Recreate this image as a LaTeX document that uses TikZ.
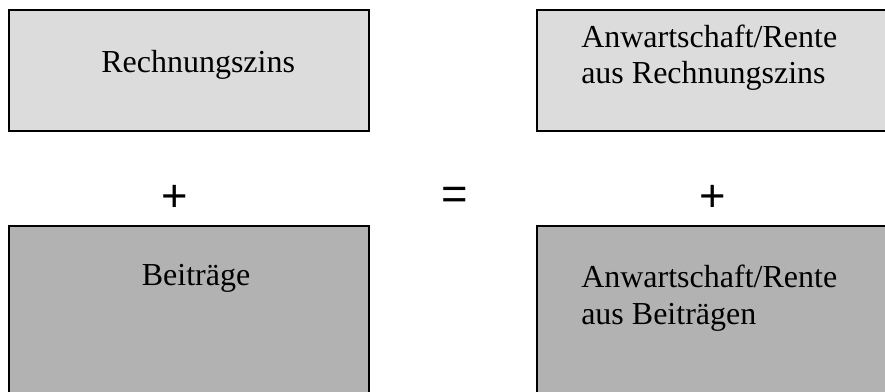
\documentclass[tikz,border=0pt]{standalone}
\usepackage{fontspec}
\setmainfont{Liberation Serif}
\newfontfamily\opfont{Liberation Sans}
\begin{document}
\begin{tikzpicture}[x=0.75pt,y=-0.75pt,
  lightbox/.style={draw=black,line width=1.4pt,fill=boxlight},
  darkbox/.style={draw=black,line width=1.4pt,fill=boxdark},
  label/.style={inner sep=0pt,anchor=base west,font=\fontsize{24}{27.6}\selectfont,align=left},
  op/.style={inner sep=0pt,font=\opfont\fontsize{34}{34}\selectfont}]
\definecolor{boxlight}{HTML}{DCDCDC}
\definecolor{boxdark}{HTML}{B2B2B2}
\useasboundingbox (0,0) rectangle (885,392);
\clip (0,0) rectangle (885,392);
% boxes (the lower row and the right column run past the page edge)
\draw[lightbox] (9,10) rectangle (369,131) node[pos=0.5] (zins) {};
\draw[darkbox] (9,226) rectangle (369,400) node[pos=0.5] (beitr) {};
\draw[lightbox] (537,10) rectangle (892,131) node[pos=0.5] (rzins) {};
\draw[darkbox] (537,226) rectangle (892,400) node[pos=0.5] (rbeitr) {};
% texts (a two-line node sits on the baseline of its last line)
\node[label] (t1) at (101,73) {Rechnungszins};
\node[label,anchor=base] (t2) at (196,285) {Beiträge};
\node[label] (t3) at (581,84) {Anwartschaft/Rente\\aus Rechnungszins};
\node[label] (t4) at (581,324) {Anwartschaft/Rente\\aus Beiträgen};
% operators
\node[op] (p1) at (175,198) {+};
\node[op] (eq) at (455,198.5) {=};
\node[op] (p2) at (713,198) {+};
\end{tikzpicture}
\end{document}
